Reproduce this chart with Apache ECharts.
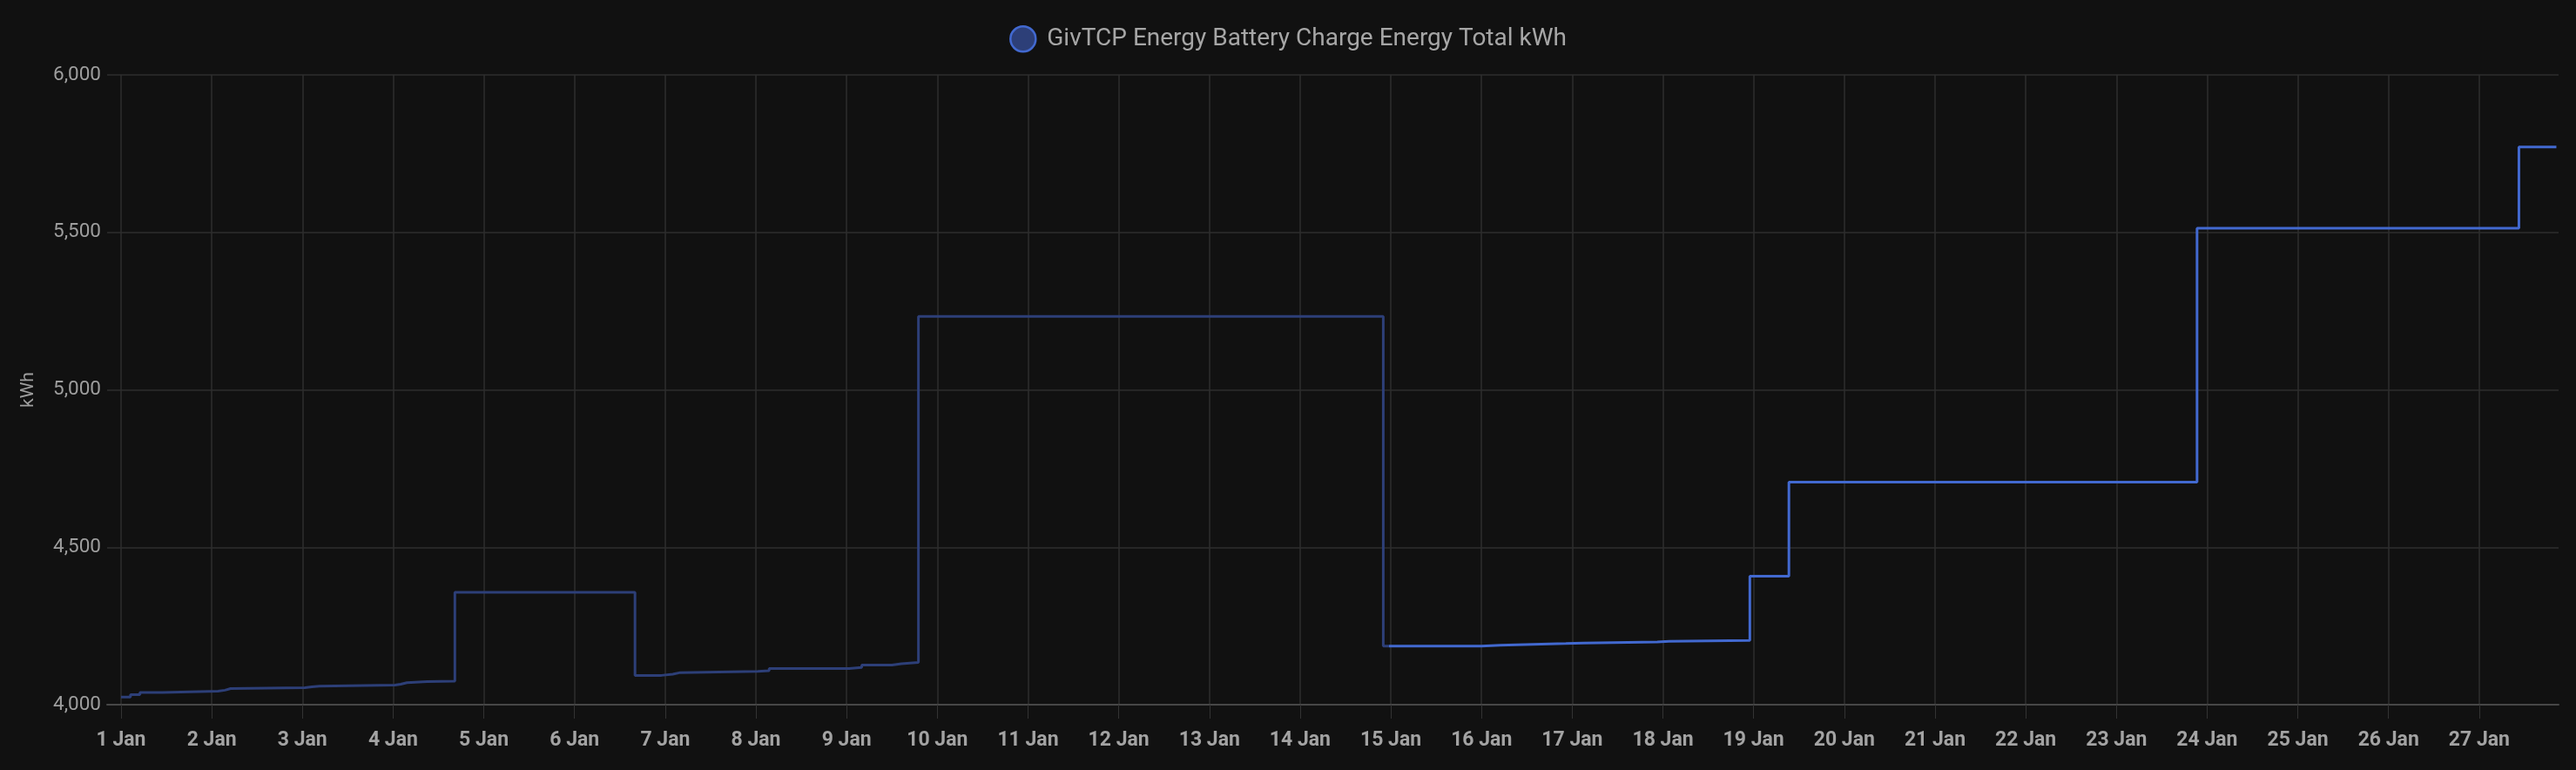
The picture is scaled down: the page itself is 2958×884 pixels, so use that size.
<!DOCTYPE html>
<html>
<head>
<meta charset="utf-8">
<script src="https://cdn.jsdelivr.net/npm/echarts@6/dist/echarts.min.js"></script>
<style>
html, body { margin: 0; padding: 0; background: #111111; }
#chart { width: 2958px; height: 884px; }
</style>
</head>
<body>
<div id="chart"></div>
<script>
// series name and readings (local time, January)
let seriesName = 'GivTCP Energy Battery Charge Energy Total kWh';
let monthNames = ['Jan', 'Feb', 'Mar', 'Apr', 'May', 'Jun', 'Jul', 'Aug', 'Sep', 'Oct', 'Nov', 'Dec'];
let readDay  = [1, 1, 1, 1, 2, 2, 2, 3, 3, 3, 4, 4, 4, 4, 4, 6, 6, 7, 7, 8, 8, 9, 9, 9, 9, 9, 14, 16, 16, 16, 17, 17, 18, 18, 19, 23, 27, 27];
let readTime = ['00:00', '02:30', '05:00', '11:00', '01:40', '03:30', '05:00', '00:40', '02:30', '04:30', '00:30', '02:00', '03:40', '09:00', '16:20',
                '16:00', '23:00', '02:00', '04:00', '00:30', '03:30', '00:40', '04:00', '12:00', '14:30', '19:00',
                '22:00', '00:00', '05:00', '22:20', '03:00', '22:30', '01:40', '23:00', '09:20', '21:20', '10:30', '20:25'];
let kwh      = [4024, 4032, 4039, 4043, 4046, 4051, 4054, 4057, 4059, 4062, 4065, 4070, 4073, 4075, 4357,
                4093, 4097, 4102, 4106, 4108, 4115, 4118, 4126, 4130, 4134, 5233,
                4186, 4189, 4194, 4196, 4199, 4201, 4204, 4408, 4707, 5513, 5771, 5771];
// y axis
let yMin = 4000, yMax = 6000, yStep = 500;

let at = (d, hm) => { let p = hm.split(':'); return new Date(2025, 0, d, +p[0], +p[1]).getTime(); };
let points = kwh.map((v, i) => [at(readDay[i], readTime[i]), v]);

// older part of the history is drawn dimmed
let cut = at(14, '23:30');
let before = points.filter(p => p[0] < cut);
let after = points.filter(p => p[0] >= cut);
let cutValue = before[before.length - 1][1];
let dimData = before.concat([[cut, cutValue]]);
let brightData = [[cut, cutValue]].concat(after);

let lineSeries = (data, color) => ({
    name: seriesName,
    type: 'line',
    step: 'end',
    showSymbol: false,
    symbol: 'none',
    lineStyle: { width: 3, color: color },
    itemStyle: { color: color },
    data: data
});

let chart = echarts.init(document.getElementById('chart'));
chart.setOption({
    backgroundColor: '#111111',
    animation: false,
    textStyle: { fontFamily: 'Roboto' },
    legend: {
        top: 24,
        left: 'center',
        itemWidth: 29,
        itemHeight: 29,
        itemGap: 10,
        textStyle: { color: '#a6a6a6', fontSize: 28, padding: [0, 0, 0, 8] },
        data: [{ name: seriesName, icon: 'circle', itemStyle: { color: '#2d3f78', borderColor: '#4269d0', borderWidth: 2.5 } }]
    },
    grid: { left: 123, right: 20, top: 86, bottom: 75 },
    xAxis: {
        type: 'time',
        min: at(0, '20:19'),
        max: at(27, '21:00'),
        minInterval: 86400000,
        maxInterval: 86400000,
        axisLine: { lineStyle: { color: '#474747', width: 2 } },
        axisTick: { show: true, length: 16, lineStyle: { color: '#333333' } },
        splitLine: { show: true, showMinLine: false, showMaxLine: false, lineStyle: { color: '#2e2e2e', width: 1.5 } },
        axisLabel: {
            color: '#a3a3a3',
            fontSize: 23,
            fontWeight: 'bold',
            margin: 30,
            formatter: v => { let d = new Date(v); return d.getDate() + ' ' + monthNames[d.getMonth()]; }
        }
    },
    yAxis: {
        type: 'value',
        min: yMin,
        max: yMax,
        interval: yStep,
        name: 'kWh',
        nameLocation: 'middle',
        nameGap: 80,
        nameTextStyle: { color: '#9e9e9e', fontSize: 21 },
        axisLine: { show: false },
        axisTick: { show: false },
        splitLine: { lineStyle: { color: '#2e2e2e', width: 1.5 } },
        axisLabel: {
            color: '#9e9e9e',
            fontSize: 22.5,
            margin: 7,
            formatter: v => v.toLocaleString('en-US')
        }
    },
    series: [lineSeries(dimData, '#2d3f78'), lineSeries(brightData, '#4269d0')]
});
</script>
</body>
</html>
